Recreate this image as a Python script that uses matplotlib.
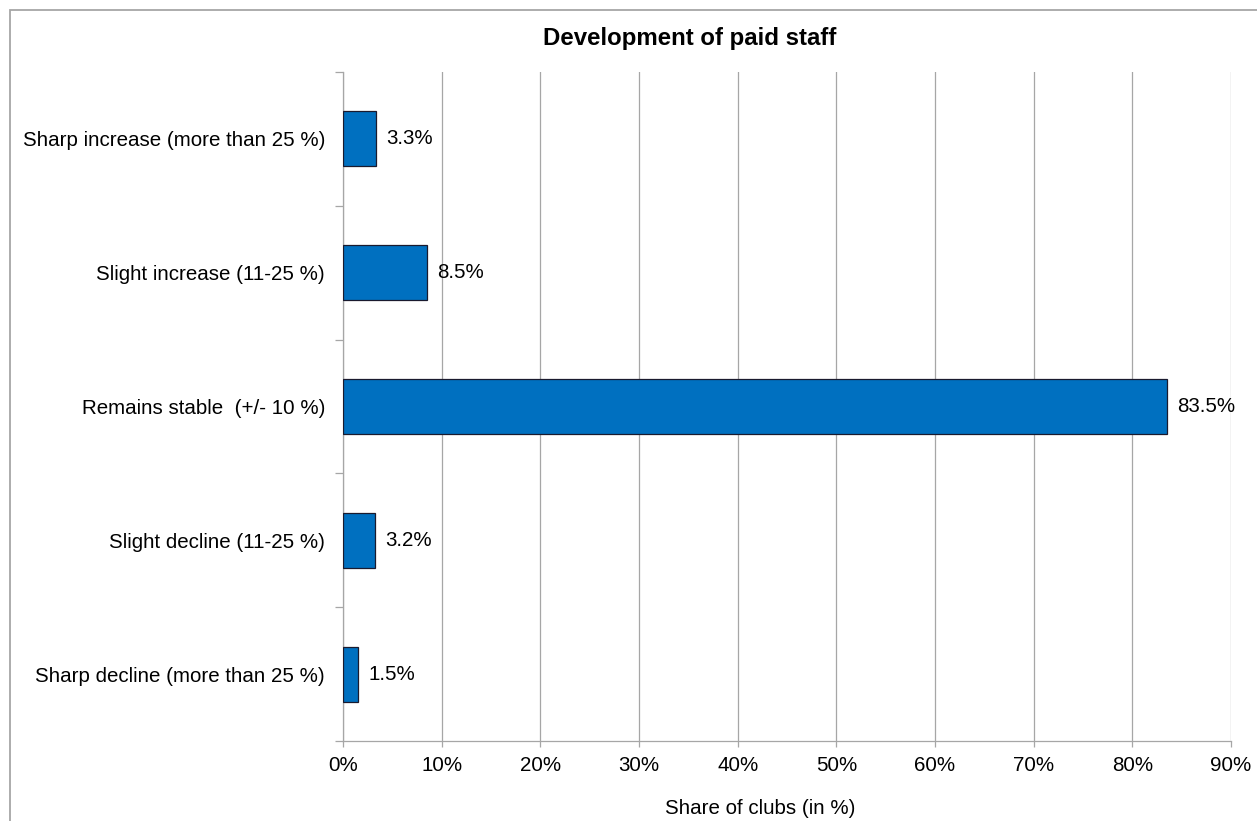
import numpy as np
import matplotlib.pyplot as plt
from matplotlib.patches import Rectangle
from matplotlib.ticker import FixedLocator, PercentFormatter

plt.rcParams['font.family'] = ['Liberation Sans', 'DejaVu Sans']

categories = ['Sharp increase (more than 25 %)',
              'Slight increase (11-25 %)',
              'Remains stable  (+/- 10 %)',
              'Slight decline (11-25 %)',
              'Sharp decline (more than 25 %)']
shares = [3.3, 8.5, 83.5, 3.2, 1.5]
x_ticks = [0, 10, 20, 30, 40, 50, 60, 70, 80, 90]

grey = '#a6a6a6'
bar_blue = '#0070c0'
fs = 14.8

W, H = 1257, 821
fig = plt.figure(figsize=(W / 100, H / 100), dpi=100)
# frame around the chart area
fig.patches.append(Rectangle((10 / W, -0.1), 1.2, 1 - 10 / H + 0.1,
                             transform=fig.transFigure, fill=False,
                             edgecolor=grey, linewidth=1.3))

ax = fig.add_axes([343 / W, 1 - 741 / H, 888 / W, 669 / H])

y = np.arange(len(categories))
bars = ax.barh(y, shares, height=0.41, color=bar_blue,
               edgecolor='#1a1a2e', linewidth=0.9, zorder=3)
ax.set_ylim(len(categories) - 0.5, -0.5)
ax.set_xlim(0, 90)

for b, v in zip(bars, shares):
    ax.annotate(f'{v:.1f}%', (b.get_width(), b.get_y() + b.get_height() / 2),
                xytext=(7.5, 0), textcoords='offset points',
                ha='left', va='center', fontsize=fs)

ax.set_xticks(x_ticks)
ax.xaxis.set_major_formatter(PercentFormatter(decimals=0))
ax.tick_params(axis='x', length=4, width=0.9, color=grey,
               labelsize=fs, pad=7)
ax.grid(axis='x', color=grey, linewidth=0.9, zorder=0)

ax.set_yticks(y)
ax.set_yticklabels(categories, fontsize=fs)
ax.yaxis.set_minor_locator(FixedLocator(np.arange(-0.5, len(categories), 1.0)))
ax.tick_params(axis='y', which='major', length=0, pad=13)
ax.tick_params(axis='y', which='minor', length=6, width=0.9, color=grey)

for side in ('top', 'right'):
    ax.spines[side].set_visible(False)
for side in ('left', 'bottom'):
    ax.spines[side].set_color(grey)
    ax.spines[side].set_linewidth(0.9)

fig.text(760 / W, 1 - 808 / H, 'Share of clubs (in %)',
         ha='center', va='center', fontsize=fs)
fig.text(690 / W, 1 - 38 / H, 'Development of paid staff',
         ha='center', va='center', fontsize=17.3, fontweight='bold')

fig.savefig('out.png', dpi=100)
